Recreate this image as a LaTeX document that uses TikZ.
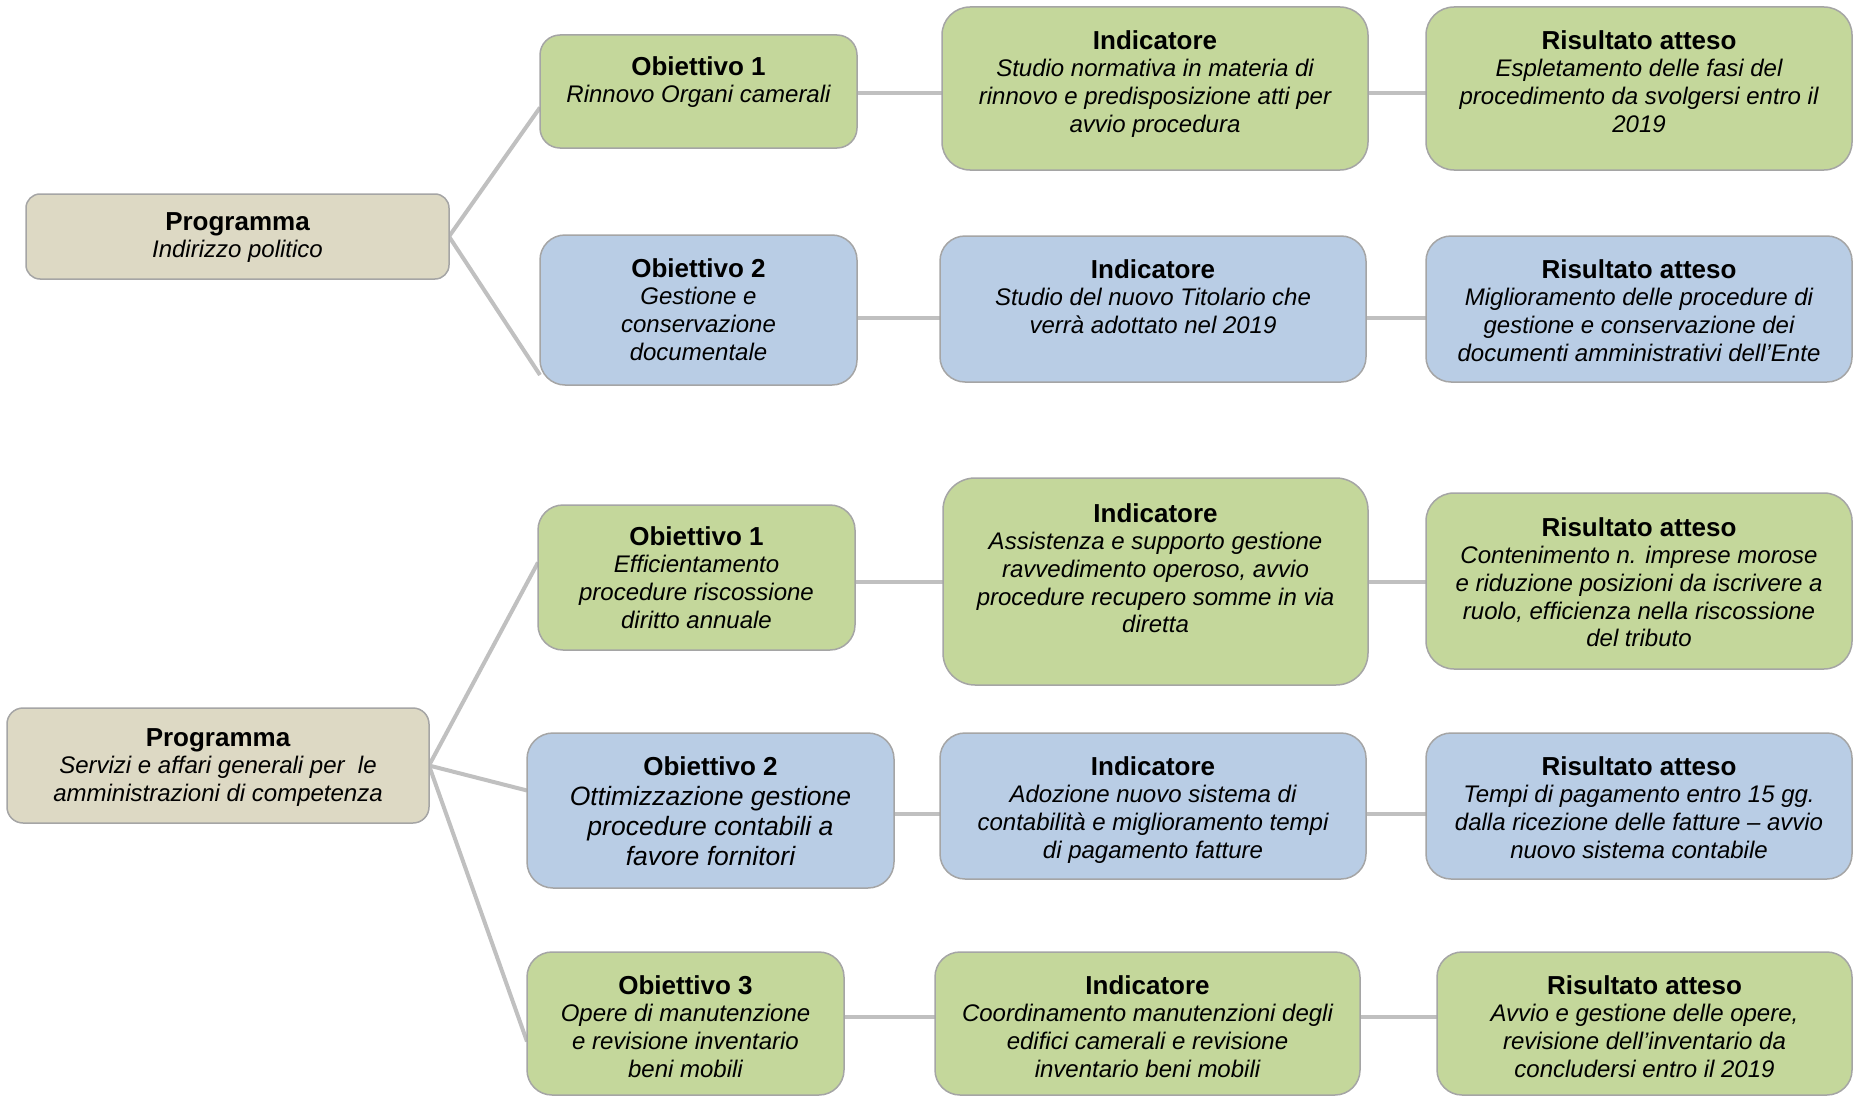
\documentclass[tikz,border=0pt]{standalone}
\usepackage{fontspec}
\setmainfont{Liberation Sans}
\usetikzlibrary{backgrounds}
\definecolor{gr}{HTML}{C4D79B}
\definecolor{bl}{HTML}{B9CDE5}
\definecolor{bg}{HTML}{DDD9C4}
\definecolor{bord}{HTML}{A5A5A5}
\definecolor{conn}{HTML}{C0C0C0}
\newcommand\bfnt{\fontsize{24}{27.7}\selectfont\itshape}
\newcommand\bx[9]{%
  \node[box,fill=#6,rounded corners=#9pt,minimum width={(#4-#2)*1pt},minimum height={(#5-#3)*1pt}] (#1) at ({(#2+#4)/2},{(#3+#5)/2}) {};
  \node[txt,anchor=north] (#1t) at ([yshift=-#7pt]#1.north) {#8};}
\newcommand\ttl[1]{{\upshape\bfseries\fontsize{26}{27.7}\selectfont #1}}
\tikzset{
  box/.style={draw=bord,line width=1.5pt,inner sep=0pt,outer sep=0pt},
  txt/.style={inner sep=0pt,align=center,font=\bfnt},
  link/.style={draw=conn,line width=4pt}
}
\begin{document}
\begin{tikzpicture}[x=1pt,y=-1pt]
\useasboundingbox (0,0) rectangle (1854,1097);
% rows
\coordinate (r1) at (0,93);
\coordinate (r2) at (0,318);
\coordinate (r3) at (0,582);
\coordinate (r4) at (0,814);
\coordinate (r5) at (0,1017);
% top group
\bx{pa}{26}{194}{449}{279}{bg}{18}{\ttl{Programma}\\Indirizzo politico}{14}
\bx{oa}{540}{35}{857}{148}{gr}{21}{\ttl{Obiettivo 1}\\Rinnovo Organi camerali}{20}
\bx{ob}{540}{235}{857}{385}{bl}{23}{\ttl{Obiettivo 2}\\Gestione e\\conservazione\\documentale}{25}
\bx{ia}{942}{7}{1368}{170}{gr}{23}{\ttl{Indicatore}\\Studio normativa in materia di\\rinnovo e predisposizione atti per\\avvio procedura}{28}
\bx{ib}{940}{236}{1366}{382}{bl}{23}{\ttl{Indicatore}\\Studio del nuovo Titolario che\\verrà adottato nel 2019}{25}
\bx{ra}{1426}{7}{1852}{170}{gr}{23}{\ttl{Risultato atteso}\\Espletamento delle fasi del\\procedimento da svolgersi entro il\\2019}{28}
\bx{rb}{1426}{236}{1852}{382}{bl}{23}{\ttl{Risultato atteso}\\Miglioramento delle procedure di\\gestione e conservazione dei\\documenti amministrativi dell’Ente}{25}
% bottom group
\bx{pb}{7}{708}{429}{823}{bg}{20}{\ttl{Programma}\\Servizi e affari generali per\ \ le\\amministrazioni di competenza}{16}
\bx{oc}{538}{505}{855}{650}{gr}{21}{\ttl{Obiettivo 1}\\Efficientamento\\procedure riscossione\\diritto annuale}{25}
\renewcommand\bfnt{\fontsize{26.5}{30}\selectfont\itshape}
\bx{od}{527}{733}{894}{888}{bl}{23}{\ttl{Obiettivo 2}\\Ottimizzazione gestione\\procedure contabili a\\favore fornitori}{26}
\renewcommand\bfnt{\fontsize{24}{27.7}\selectfont\itshape}
\bx{oe}{527}{952}{844}{1095}{gr}{23}{\ttl{Obiettivo 3}\\Opere di manutenzione\\e revisione inventario\\beni mobili}{25}
\bx{ic}{943}{478}{1368}{685}{gr}{25}{\ttl{Indicatore}\\Assistenza e supporto gestione\\ravvedimento operoso, avvio\\procedure recupero somme in via\\diretta}{32}
\bx{id}{940}{733}{1366}{879}{bl}{23}{\ttl{Indicatore}\\Adozione nuovo sistema di\\contabilità e miglioramento tempi\\di pagamento fatture}{25}
\bx{ie}{935}{952}{1360}{1095}{gr}{23}{\ttl{Indicatore}\\Coordinamento manutenzioni degli\\edifici camerali e revisione\\inventario beni mobili}{25}
\bx{rc}{1426}{493}{1852}{669}{gr}{24}{\ttl{Risultato atteso}\\Contenimento n. imprese morose\\e riduzione posizioni da iscrivere a\\ruolo, efficienza nella riscossione\\del tributo}{28}
\bx{rd}{1426}{733}{1852}{879}{bl}{23}{\ttl{Risultato atteso}\\Tempi di pagamento entro 15 gg.\\dalla ricezione delle fatture – avvio\\nuovo sistema contabile}{25}
\bx{re}{1437}{952}{1852}{1095}{gr}{23}{\ttl{Risultato atteso}\\Avvio e gestione delle opere,\\revisione dell’inventario da\\concludersi entro il 2019}{25}
% connectors
\begin{scope}[on background layer]
\draw[link] (pa.east) -- ([yshift=-16pt]oa.west);
\draw[link] (pa.east) -- ([yshift=-65pt]ob.west);
\draw[link] (oa.east |- r1) -- (ia.west |- r1);
\draw[link] (ia.east |- r1) -- (ra.west |- r1);
\draw[link] (ob.east |- r2) -- (ib.west |- r2);
\draw[link] (ib.east |- r2) -- (rb.west |- r2);
\draw[link] (pb.east) -- ([yshift=15pt]oc.west);
\draw[link] (pb.east) -- ([yshift=20pt]od.west);
\draw[link] (pb.east) -- ([yshift=-18pt]oe.west);
\draw[link] (oc.east |- r3) -- (ic.west |- r3);
\draw[link] (ic.east |- r3) -- (rc.west |- r3);
\draw[link] (od.east |- r4) -- (id.west |- r4);
\draw[link] (id.east |- r4) -- (rd.west |- r4);
\draw[link] (oe.east |- r5) -- (ie.west |- r5);
\draw[link] (ie.east |- r5) -- (re.west |- r5);
\end{scope}
\end{tikzpicture}
\end{document}
